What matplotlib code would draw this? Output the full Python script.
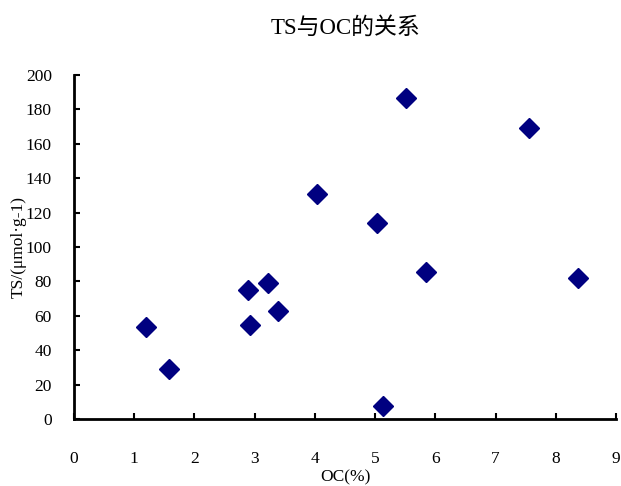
import matplotlib
matplotlib.use('Agg')
import matplotlib.pyplot as plt

# OC (%) and TS (umol/g)
oc = [1.20, 1.58, 2.89, 2.92, 3.22, 3.39, 4.04, 5.03, 5.13, 5.51, 5.85, 7.56, 8.37]
ts = [53.5, 29, 75, 54.5, 79, 63, 131, 114, 7.5, 186.5, 85.5, 169, 82]

x_ticks = list(range(0, 10))
y_ticks = list(range(0, 201, 20))

plt.rcParams['font.family'] = ['Liberation Serif', 'Noto Sans CJK SC']

fig = plt.figure(figsize=(6.21, 4.86), dpi=100)
ax = fig.add_axes([0.1192, 0.1379, 0.8728, 0.7078])

ax.plot(oc, ts, linestyle='none', marker='D', markersize=10.5,
        color='#000080', markeredgecolor='#000080', clip_on=False)

ax.set_xlim(0, 9)
ax.set_ylim(0, 200)
ax.set_xticks(x_ticks)
ax.set_yticks(y_ticks)

for side in ['top', 'right']:
    ax.spines[side].set_visible(False)
for side in ['left', 'bottom']:
    ax.spines[side].set_linewidth(2)

ax.tick_params(axis='x', direction='in', length=4, width=1.5, pad=23, labelsize=12.5)
ax.tick_params(axis='y', direction='in', length=4, width=1.5, pad=16, labelsize=12.5)

ax.set_xlabel('OC(%)', fontsize=12.5, labelpad=2)
ax.set_ylabel('TS/(μmol·g-1)', fontsize=12.5, labelpad=-1)
ax.set_title('TS与OC的关系', fontsize=16.5, pad=30)

fig.savefig('out.png', dpi=100)
